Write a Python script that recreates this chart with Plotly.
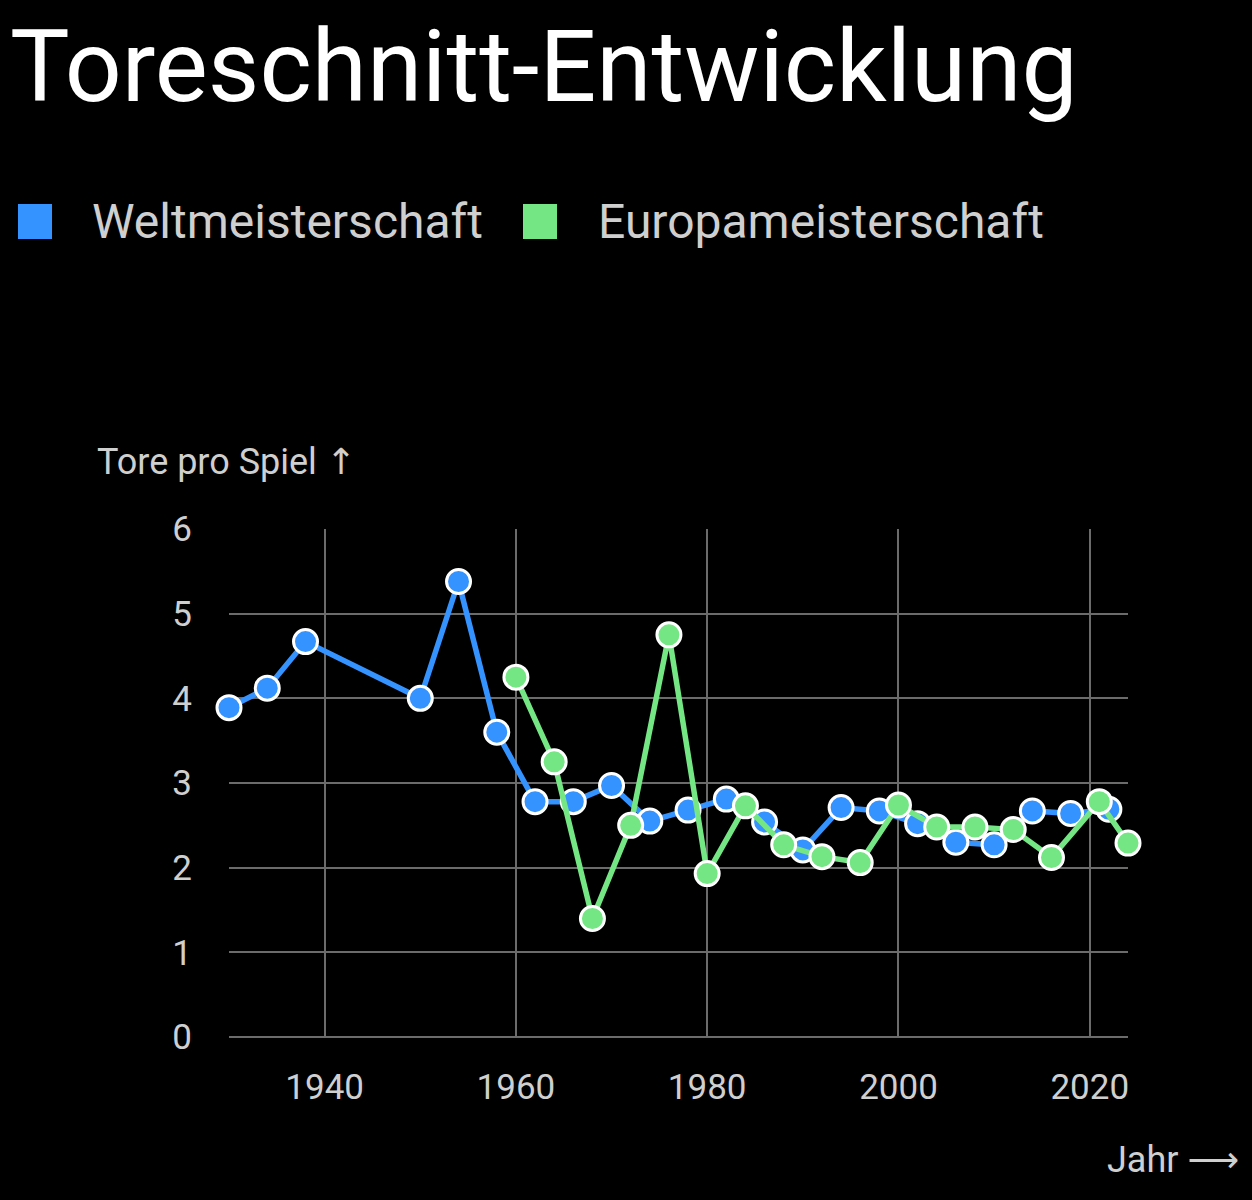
import plotly.graph_objects as go

# Daten: Tore pro Spiel bei WM und EM
wm_jahre = [1930, 1934, 1938, 1950, 1954, 1958, 1962, 1966, 1970, 1974, 1978,
            1982, 1986, 1990, 1994, 1998, 2002, 2006, 2010, 2014, 2018, 2022]
wm_tore = [3.89, 4.12, 4.67, 4.00, 5.38, 3.60, 2.78, 2.78, 2.97, 2.55, 2.68,
           2.81, 2.54, 2.21, 2.71, 2.67, 2.52, 2.30, 2.27, 2.67, 2.64, 2.69]

em_jahre = [1960, 1964, 1968, 1972, 1976, 1980, 1984, 1988, 1992, 1996, 2000,
            2004, 2008, 2012, 2016, 2021, 2024]
em_tore = [4.25, 3.25, 1.40, 2.50, 4.75, 1.93, 2.73, 2.27, 2.13, 2.06, 2.74,
           2.48, 2.48, 2.45, 2.12, 2.78, 2.29]

blau = '#3593ff'
gruen = '#74e683'
textfarbe = '#cfcfcf'
gitter = '#6b6b6b'
schrift = 'Roboto'
pfeil = '<span style="font-family:DejaVu Sans">%s</span>'

# Plotbereich in Pixeln (fuer Beschriftungen ausserhalb)
L, R, T, B = 229, 1128, 529, 1037


def px_x(p):
    return (p - L) / (R - L)


def px_y(p):
    return (B - p) / (B - T)


fig = go.Figure()

fig.add_trace(go.Scatter(x=wm_jahre, y=wm_tore, mode='lines+markers',
                         name='Weltmeisterschaft', cliponaxis=False,
                         line={'color': blau, 'width': 5.5},
                         marker={'color': blau, 'size': 24,
                                 'line': {'color': 'white', 'width': 3}}))
fig.add_trace(go.Scatter(x=em_jahre, y=em_tore, mode='lines+markers',
                         name='Europameisterschaft', cliponaxis=False,
                         line={'color': gruen, 'width': 5.5},
                         marker={'color': gruen, 'size': 24,
                                 'line': {'color': 'white', 'width': 3}}))

# Legende von Hand (grosse Quadrate)
legende = [('Weltmeisterschaft', blau, 18, 90),
           ('Europameisterschaft', gruen, 523, 596)]
for name, farbe, qx, tx in legende:
    fig.add_shape(type='rect', xref='paper', yref='paper',
                  x0=px_x(qx), x1=px_x(qx + 34), y0=px_y(239), y1=px_y(204),
                  fillcolor=farbe, line={'width': 0})
    fig.add_annotation(text=name, xref='paper', yref='paper',
                       x=px_x(tx), y=px_y(221), xanchor='left', yanchor='middle',
                       showarrow=False,
                       font={'size': 48, 'color': textfarbe, 'family': schrift})

# Titel
fig.add_annotation(text='Toreschnitt-Entwicklung', xref='paper', yref='paper',
                   x=px_x(8), y=px_y(66), xanchor='left', yanchor='middle',
                   showarrow=False,
                   font={'size': 100, 'color': 'white', 'family': schrift})

# Achsenbeschriftungen
fig.add_annotation(text='Tore pro Spiel ' + pfeil % '↑', xref='paper', yref='paper',
                   x=px_x(95), y=px_y(462), xanchor='left', yanchor='middle',
                   showarrow=False,
                   font={'size': 36, 'color': textfarbe, 'family': schrift})
fig.add_annotation(text='Jahr ' + pfeil % '⟶', xref='paper', yref='paper',
                   x=px_x(1241), y=px_y(1160), xanchor='right', yanchor='middle',
                   showarrow=False,
                   font={'size': 36, 'color': textfarbe, 'family': schrift})

fig.update_layout(
    width=1252, height=1200,
    paper_bgcolor='black', plot_bgcolor='black',
    showlegend=False,
    margin={'l': L, 'r': 1252 - R, 't': T, 'b': 1200 - B},
    font={'family': schrift, 'color': textfarbe, 'size': 35},
    xaxis={'range': [1930, 2024], 'tickvals': [1940, 1960, 1980, 2000, 2020],
           'showgrid': True, 'gridcolor': gitter, 'gridwidth': 2,
           'zeroline': False, 'showline': False, 'ticks': '',
           'ticklabelstandoff': 26},
    yaxis={'range': [0, 6], 'tickvals': [0, 1, 2, 3, 4, 5, 6],
           'showgrid': True, 'gridcolor': gitter, 'gridwidth': 2,
           'zeroline': True, 'zerolinecolor': gitter, 'zerolinewidth': 2,
           'showline': False, 'ticks': '',
           'ticklabelstandoff': 36},
)

fig.write_html('out.html', config={'displayModeBar': False},
               post_script="document.body.style.margin='0';"
                           "document.body.style.background='black';")
